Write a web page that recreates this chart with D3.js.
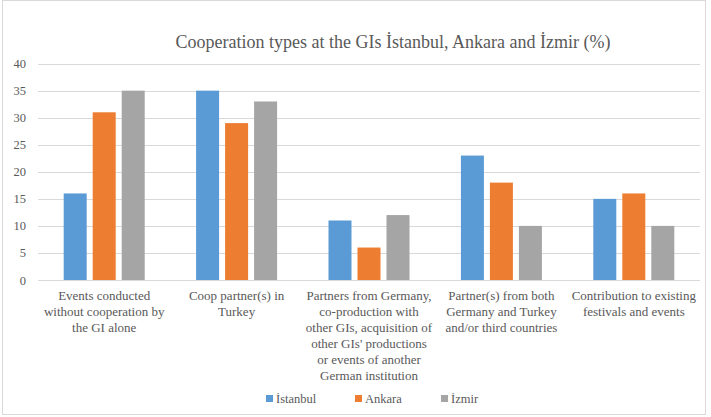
<!DOCTYPE html>
<html><head><meta charset="utf-8">
<script src="https://cdn.jsdelivr.net/npm/d3@7/dist/d3.min.js"></script>
<style>body{margin:0;background:#fff}svg{display:block}
svg text{font-family:"Liberation Serif","Times New Roman","DejaVu Serif",serif;}</style>
</head><body>
<svg id="c" width="711" height="417"></svg>
<script>
const categories = [
  "Events conducted\nwithout cooperation by\nthe GI alone",
  "Coop partner(s) in\nTurkey",
  "Partners from Germany,\nco-production with\nother GIs, acquisition of\nother GIs' productions\nor events of another\nGerman institution",
  "Partner(s) from both\nGermany and Turkey\nand/or third countries",
  "Contribution to existing\nfestivals and events"
];
const seriesNames = ["İstanbul", "Ankara", "İzmir"];
const istanbul = [16, 35, 11, 23, 15];
const ankara = [31, 29, 6, 18, 16];
const izmir = [35, 33, 12, 10, 10];
const yTicks = [0, 5, 10, 15, 20, 25, 30, 35, 40];
const title = "Cooperation types at the GIs İstanbul, Ankara and İzmir (%)";
const colors = ["#5B9BD5", "#ED7D31", "#A5A5A5"];

(function(){
const values = [istanbul, ankara, izmir];
const svg = d3.select("#c");

svg.append("rect").attr("x",2.5).attr("y",0.5).attr("width",703).attr("height",414)
  .attr("fill","#fff").attr("stroke","#D9D9D9");

const pLeft = 38, pRight = 700, pTop = 63.6, pBottom = 280;
const x0 = d3.scaleBand().domain(d3.range(categories.length)).range([pLeft, pRight]).padding(0);
const x1 = d3.scaleBand().domain(d3.range(seriesNames.length)).range([0, x0.bandwidth()])
  .paddingInner(0.207).paddingOuter(0.886);
const y = d3.scaleLinear().domain([0, 40]).range([pBottom, pTop]);

svg.append("g").selectAll("line").data(yTicks).join("line")
  .attr("x1", pLeft).attr("x2", pRight)
  .attr("y1", d => Math.round(y(d)) + 0.5).attr("y2", d => Math.round(y(d)) + 0.5)
  .attr("stroke", "#D9D9D9").attr("stroke-width", 1);

const yAxis = d3.axisLeft(y).tickValues(yTicks).tickSize(0).tickPadding(0);
const ya = svg.append("g").attr("transform", `translate(${pLeft-12},0)`).call(yAxis);
ya.select(".domain").remove();
ya.attr("font-family", null);
ya.selectAll("text").attr("font-size", 12.5).attr("fill", "#595959");

const g = svg.append("g");
categories.forEach((c, i) => {
  values.forEach((vals, s) => {
    g.append("rect")
      .attr("x", x0(i) + x1(s)).attr("width", x1.bandwidth())
      .attr("y", y(vals[i])).attr("height", y(0) - y(vals[i]))
      .attr("fill", colors[s]);
  });
});

const xl = svg.append("g");
categories.forEach((c, i) => {
  const t = xl.append("text").attr("text-anchor", "middle")
    .attr("font-size", 13).attr("fill", "#595959");
  c.split("\n").forEach((line, k) => {
    t.append("tspan").attr("x", x0(i) + x0.bandwidth()/2).attr("y", 300 + k*16).text(line);
  });
});

svg.append("text").attr("x", 393).attr("y", 48).attr("text-anchor", "middle")
  .attr("font-size", 18).attr("fill", "#595959").text(title);

const legX = [266, 355, 441];
const leg = svg.append("g");
seriesNames.forEach((n, s) => {
  leg.append("rect").attr("x", legX[s]).attr("y", 395).attr("width", 7).attr("height", 7).attr("fill", colors[s]);
  leg.append("text").attr("x", legX[s] + 10).attr("y", 403)
    .attr("font-size", 12.5).attr("fill", "#595959").text(n);
});
})();
</script>
</body></html>
